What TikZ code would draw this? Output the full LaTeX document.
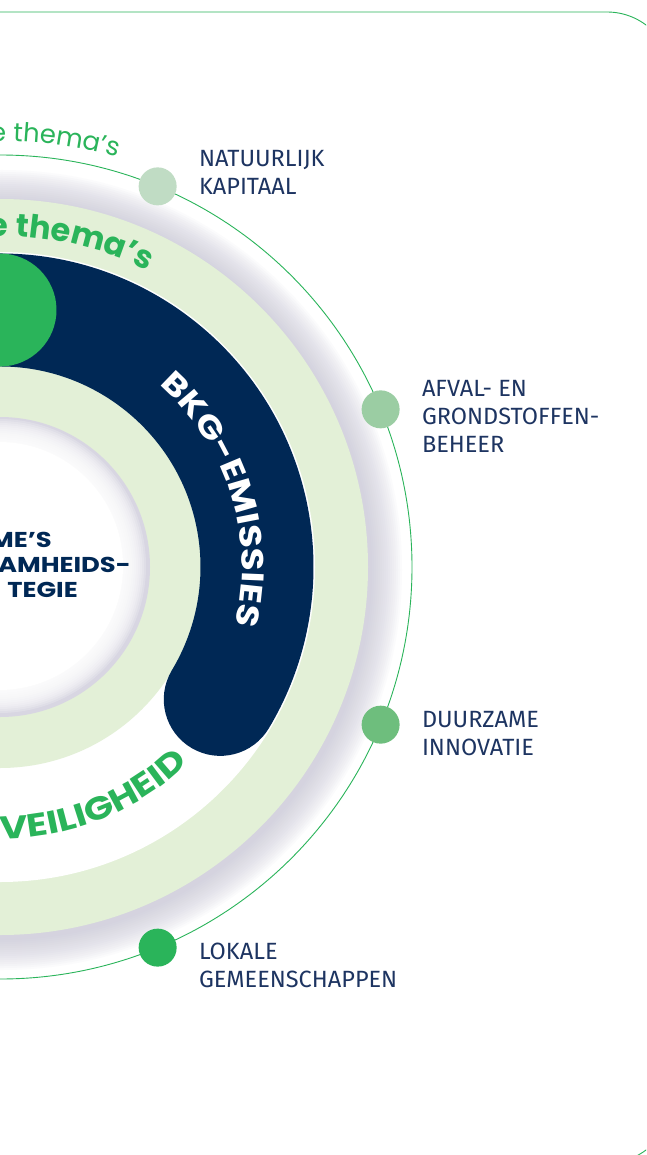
\documentclass[tikz,border=0pt]{standalone}
\usepackage{fontspec}
\setmainfont{Fira Sans}
\newfontfamily\themafont{Poppins}
\newfontfamily\widefont{Poppins}[FakeStretch=1.2]
\usepackage{tikz}
\usetikzlibrary{calc,positioning,decorations.text}
\definecolor{navy}{HTML}{002855}
\definecolor{leaf}{HTML}{2AB45A}
\definecolor{pale}{HTML}{E3F0D7}
\definecolor{haze}{HTML}{C7C5D5}
\definecolor{ink}{HTML}{1D3461}
\definecolor{dotA}{HTML}{C0DCC4}
\definecolor{dotB}{HTML}{9BCDA3}
\definecolor{dotC}{HTML}{6EBE7D}
\definecolor{dotD}{HTML}{2AB45A}
\tikzset{
  orbit/.style={draw=leaf, line width=0.9pt},
  dot/.style={circle, minimum size=38pt, inner sep=0pt},
  lbl/.style={text=ink, font=\fontsize{23.5}{28}\selectfont, align=left, inner sep=0pt},
  band/.style={line width=113pt, line cap=round},
  ctr/.style={text=navy, font=\widefont\bfseries\fontsize{21.5}{21.5}\selectfont, inner sep=0pt, anchor=east},
}

\begin{document}
\begin{tikzpicture}[x=1pt,y=1pt]
  \useasboundingbox (0,0) rectangle (646,-1155);
  \clip (0,0) rectangle (646,-1155);
  \fill[white] (0,0) rectangle (646,-1155);
  \coordinate (O) at (0,-567);

  \foreach \k in {1,...,16}
    \fill[haze, fill opacity=0.065] ($(O)+(2,-3)$) circle[radius={368pt+2pt*\k}];
  \fill[pale] (O) circle[radius=368pt];
  \fill[white] (O) circle[radius=315pt];
  \fill[pale] (O) circle[radius=201pt];
  \fill[haze!70] (O) circle[radius=150pt];
  \foreach \k in {1,...,12}
    \fill[white, fill opacity=0.2] ($(O)+(-1,1)$) circle[radius={149pt-2pt*\k}];
  \fill[white] ($(O)+(-1,1)$) circle[radius=124pt];

  \draw[band, navy] ($(O)+(95:257pt)$) arc[start angle=95, end angle=-31, radius=257pt];
  \draw[band, leaf] ($(O)+(150:257pt)$) arc[start angle=150, end angle=90, radius=257pt];

  \path[decorate, decoration={text along path, text align=right,
    text={|\themafont\fontsize{26}{26}\selectfont\color{leaf}|e thema’s}}]
    ($(O)+(120:426pt)$) arc[start angle=120, end angle=74, radius=426pt];
  \path[decorate, decoration={text along path, text align=right,
    text={|\themafont\bfseries\fontsize{32}{32}\selectfont\color{leaf}|e thema’s}}]
    ($(O)+(120:331pt)$) arc[start angle=120, end angle=63.5, radius=331pt];
  \path[decorate, decoration={text along path, text align=center,
    text={|\widefont\bfseries\fontsize{31}{31}\selectfont\color{white}|BKG-EMISSIES}}]
    ($(O)+(54:242pt)$) arc[start angle=54, end angle=-19, radius=242pt];
  \path[decorate, decoration={text along path, text align=center,
    text={|\widefont\bfseries\fontsize{32}{32}\selectfont\color{leaf}|VEILIGHEID}}]
    ($(O)+(-95:272pt)$) arc[start angle=-95, end angle=-41, radius=272pt];

  \node[ctr] (ctA) at (52,-540) {ME’S};
  \node[ctr] (ctB) at (131,-565) {AMHEIDS-};
  \node[ctr] (ctC) at (78,-590) {TEGIE};

  \draw[orbit] (O) circle[radius=412pt];
  \node[dot, fill=dotA] (nk) at ($(O)+(67.5:412pt)$) {};
  \node[dot, fill=dotB] (ag) at ($(O)+(22.5:412pt)$) {};
  \node[dot, fill=dotC] (di) at ($(O)+(-22.5:412pt)$) {};
  \node[dot, fill=dotD] (lg) at ($(O)+(-67.5:412pt)$) {};
  \node[lbl, right=22pt of nk, yshift=14pt] (nkL) {NATUURLIJK\\KAPITAAL};
  \node[lbl, right=22pt of ag, yshift=-7pt] (agL) {AFVAL- EN\\GRONDSTOFFEN-\\BEHEER};
  \node[lbl, right=22pt of di, yshift=-9pt] (diL) {DUURZAME\\INNOVATIE};
  \node[lbl, right=22pt of lg, yshift=-18pt] (lgL) {LOKALE\\GEMEENSCHAPPEN};

  \draw[orbit, rounded corners=65pt] (-100,-12) rectangle (672,-1163);
\end{tikzpicture}
\end{document}
